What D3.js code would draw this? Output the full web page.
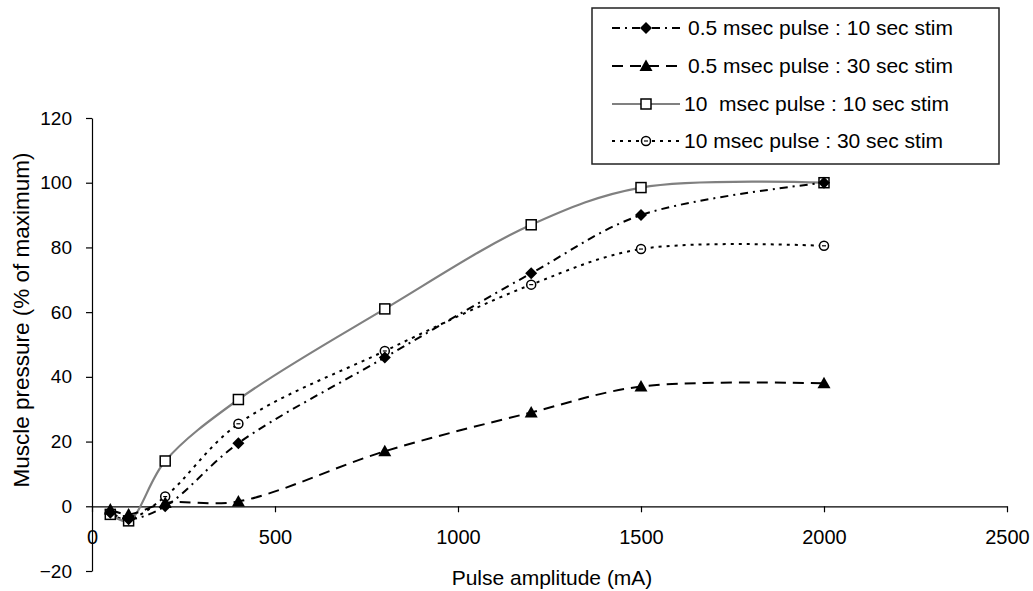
<!DOCTYPE html>
<html>
<head>
<meta charset="utf-8">
<script src="https://cdn.jsdelivr.net/npm/d3@7/dist/d3.min.js"></script>
<style>
  html, body { margin: 0; padding: 0; background: #fff; }
  svg { display: block; font-family: "Liberation Sans", Arial, sans-serif; }
</style>
</head>
<body>
<svg id="chart" width="1033" height="591"></svg>
<script>
// Pulse amplitudes (mA) shared by every series
const amplitudes = [50, 100, 200, 400, 800, 1200, 1500, 2000];

// Muscle pressure (% of maximum) per stimulation protocol
const short10 = [-2, -4, 0, 19.5, 46, 72, 90, 100];
const short30 = [-1, -2.5, 1, 1.5, 17, 29, 37, 38];
const long10 = [-2.5, -4.5, 14, 33, 61, 87, 98.5, 100];
const long30 = [-2.5, -4, 3, 25.5, 48, 68.5, 79.5, 80.5];

const seriesNames = [
  "0.5 msec pulse : 10 sec stim",
  "0.5 msec pulse : 30 sec stim",
  "10  msec pulse : 10 sec stim",
  "10 msec pulse : 30 sec stim"
];

const xTicks = [0, 500, 1000, 1500, 2000, 2500];
const yTicks = [-20, 0, 20, 40, 60, 80, 100, 120];

const styles = [
  { values: short10, stroke: "#000", width: 2, dash: "8,5,2,5", marker: "diamond" },
  { values: short30, stroke: "#000", width: 2, dash: "11,7", marker: "triangle" },
  { values: long10, stroke: "#808080", width: 2.2, dash: null, marker: "square" },
  { values: long30, stroke: "#000", width: 2, dash: "3,5", marker: "circle" }
];

const FONT = "Liberation Sans, Arial, sans-serif";
const svg = d3.select("#chart");

const x = d3.scaleLinear().domain([0, 2500]).range([92, 1007]);
const y = d3.scaleLinear().domain([-20, 120]).range([571, 118]);

// Y axis
const yAxis = svg.append("g").attr("transform", `translate(${x(0)},0)`)
  .call(d3.axisLeft(y).tickValues(yTicks).tickFormat(d3.format("d"))
    .tickSize(6).tickPadding(14).tickSizeOuter(0));
yAxis.select(".domain").attr("stroke", "#000").attr("stroke-width", 1.2);
yAxis.selectAll(".tick line").attr("stroke", "#000").attr("stroke-width", 1.2);
yAxis.selectAll(".tick text").attr("font-size", 19).attr("fill", "#000")
  .attr("font-family", FONT);

// X axis drawn at zero
const xAxis = svg.append("g").attr("transform", `translate(0,${y(0)})`)
  .call(d3.axisBottom(x).tickValues(xTicks).tickFormat(d3.format("d"))
    .tickSize(6).tickPadding(18).tickSizeOuter(0));
xAxis.select(".domain").attr("stroke", "#000").attr("stroke-width", 1.2);
xAxis.selectAll(".tick line").attr("stroke", "#000").attr("stroke-width", 1.2);
xAxis.selectAll(".tick text").attr("font-size", 20).attr("fill", "#000")
  .attr("font-family", FONT);

// Axis titles
svg.append("text").attr("x", 552).attr("y", 585).attr("text-anchor", "middle")
  .attr("font-size", 21).text("Pulse amplitude (mA)");
svg.append("text")
  .attr("transform", "translate(28.5,320) rotate(-90)")
  .attr("text-anchor", "middle").attr("font-size", 22.5)
  .text("Muscle pressure (% of maximum)");

const line = d3.line()
  .x((d, i) => x(amplitudes[i]))
  .y(d => y(d))
  .curve(d3.curveCatmullRom.alpha(0.5));

function drawMarker(g, type, cx, cy) {
  if (type === "diamond") {
    g.append("path").attr("d", `M${cx},${cy - 6}L${cx + 6},${cy}L${cx},${cy + 6}L${cx - 6},${cy}Z`)
      .attr("fill", "#000");
  } else if (type === "triangle") {
    g.append("path").attr("d", `M${cx},${cy - 6.5}L${cx + 6.5},${cy + 5}L${cx - 6.5},${cy + 5}Z`)
      .attr("fill", "#000");
  } else if (type === "square") {
    g.append("rect").attr("x", cx - 5).attr("y", cy - 5).attr("width", 10).attr("height", 10)
      .attr("fill", "#fff").attr("stroke", "#000").attr("stroke-width", 1.5);
  } else {
    g.append("circle").attr("cx", cx).attr("cy", cy).attr("r", 4.5)
      .attr("fill", "#fff").attr("stroke", "#000").attr("stroke-width", 1.5);
    g.append("line").attr("x1", cx - 2).attr("x2", cx + 2).attr("y1", cy).attr("y2", cy)
      .attr("stroke", "#000").attr("stroke-width", 1.2);
  }
}

// Series lines, then markers on top (grey curve below the black markers)
const drawOrder = [3, 2, 1, 0];
drawOrder.forEach(k => {
  const s = styles[k];
  svg.append("path").datum(s.values).attr("d", line)
    .attr("fill", "none").attr("stroke", s.stroke).attr("stroke-width", s.width)
    .attr("stroke-dasharray", s.dash);
});
drawOrder.forEach(k => {
  const s = styles[k];
  const g = svg.append("g");
  s.values.forEach((v, i) => drawMarker(g, s.marker, x(amplitudes[i]), y(v)));
});

// Legend
const legend = svg.append("g");
legend.append("rect").attr("x", 592).attr("y", 8).attr("width", 407).attr("height", 156)
  .attr("fill", "#fff").attr("stroke", "#222").attr("stroke-width", 1.5);
const rowY = [28, 66, 104, 141];
const textX = [688, 688, 684, 684];
styles.forEach((s, k) => {
  const ry = rowY[k];
  legend.append("line").attr("x1", 612).attr("x2", 680).attr("y1", ry).attr("y2", ry)
    .attr("stroke", s.stroke).attr("stroke-width", s.width).attr("stroke-dasharray", s.dash);
  drawMarker(legend, s.marker, 646, ry);
  legend.append("text").attr("x", textX[k]).attr("y", ry).attr("dy", "0.35em")
    .attr("font-size", 21).attr("xml:space", "preserve").style("white-space", "pre")
    .text(seriesNames[k]);
});
</script>
</body>
</html>
